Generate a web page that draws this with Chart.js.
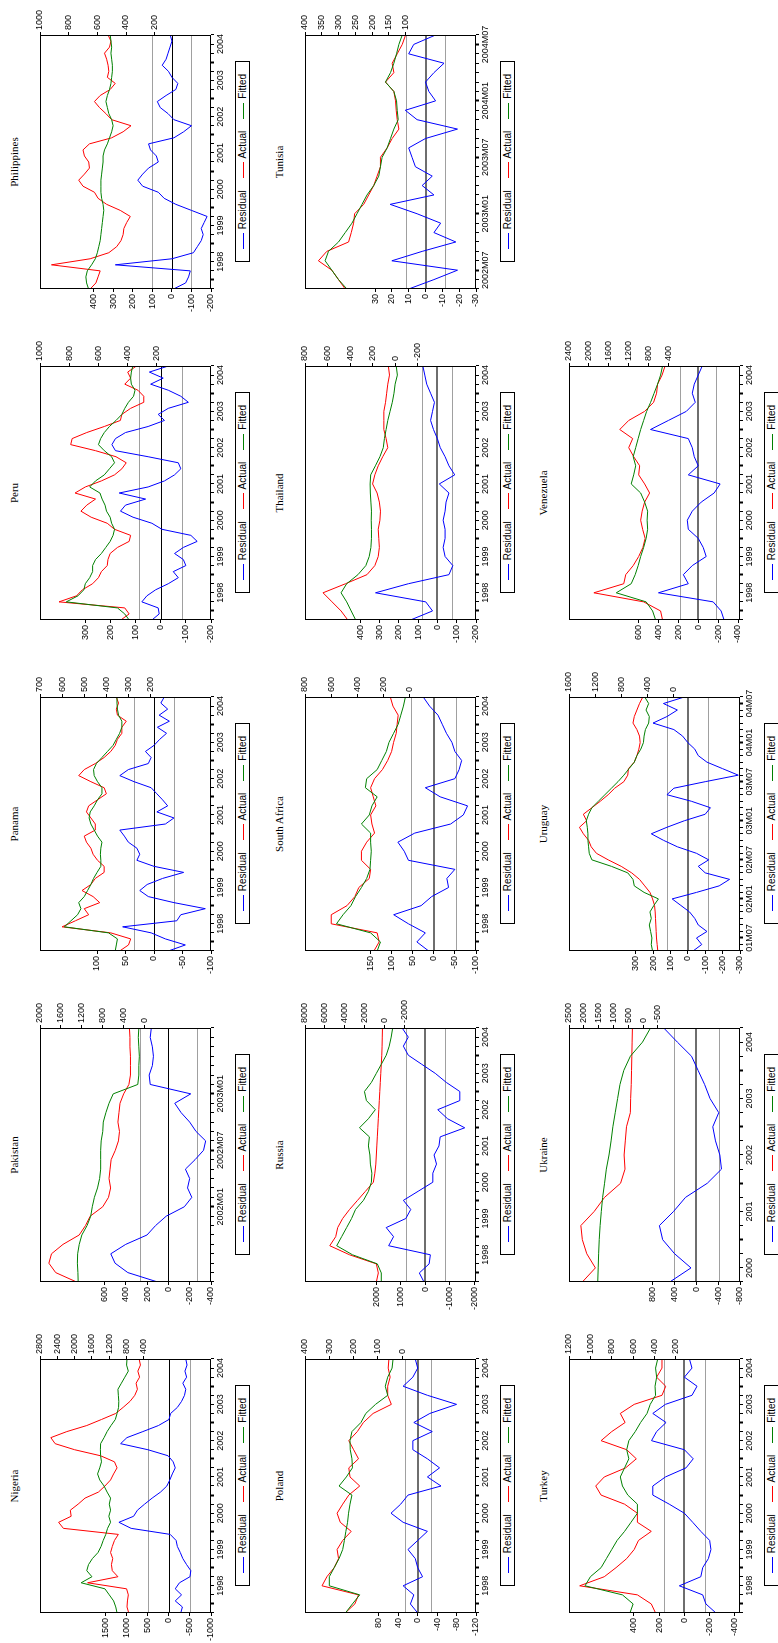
<!DOCTYPE html>
<html>
<head>
<meta charset="utf-8">
<script src="https://cdn.jsdelivr.net/npm/chart.js@4.4.0/dist/chart.umd.min.js"></script>
<style>
  html, body { margin: 0; padding: 0; background: #fff; }
  body { width: 778px; height: 1643px; overflow: hidden; position: relative; }
  #page { position: absolute; left: 0; top: 0; width: 1643px; height: 778px;
          transform-origin: 0 0; transform: translate(0, 1643px) rotate(-90deg); }
  .ttl { position: absolute; font: 11px 'Liberation Serif', 'Times New Roman', serif; text-align: center; }
  .lg { position: absolute; box-sizing: border-box; border: 1px solid #000; display: flex; align-items: center;
        justify-content: space-evenly; font: 10px 'Liberation Sans', Arial, sans-serif; }
  .lg i { display: inline-block; width: 16px; border-top: 1px solid; margin-right: 4px; vertical-align: middle; }
  canvas { position: absolute; }
</style>
</head>
<body>
<div id="page"></div>
<script>
// ---- x axis tick labels ----
const years = ['1998', '1999', '2000', '2001', '2002', '2003', '2004'];
const pakistanLabels = ['2002M01', '2002M07', '2003M01'];
const tunisiaLabels = ['2002M07', '2003M01', '2003M07', '2004M01', '2004M07'];
const ukraineLabels = ['2000', '2001', '2002', '2003', '2004'];
const uruguayLabels = ['01M07', '02M01', '02M07', '03M01', '03M07', '04M01', '04M07'];

// ---- series ----
// every 2 months from 1997M10
const nigeriaActual = [750,790,780,760,800,1700,1000,1130,1150,1120,1170,1130,1080,990,2260,2370,2080,2100,1920,1760,1450,1300,1170,1100,1020,1080,1400,2000,2450,2550,2180,1720,1380,1050,880,720,610,550,580,500,540,480,510];
const nigeriaFitted = [1020,1050,1100,1200,1300,1850,1600,1720,1680,1590,1460,1390,1340,1280,1240,1170,1210,1170,1200,1170,1250,1320,1420,1470,1420,1380,1400,1405,1400,1320,1250,1160,1060,1020,985,980,990,1000,920,840,760,800,790];
const nigeriaResid = [-280,-320,-150,-300,-150,-250,-500,-520,-420,-330,-270,-200,-170,-30,900,1190,840,750,580,400,200,50,-20,-80,-150,-100,20,500,1150,1000,620,250,0,-40,-200,-300,-370,-400,-330,-420,-380,-430,-400];

// monthly from 2001M05
const pakistanActual = [1300,1700,1830,1780,1560,1250,1130,1040,800,690,650,680,660,640,560,500,480,510,490,470,400,300,270,270,270,280,280,290];
const pakistanFitted = [1270,1275,1285,1280,1250,1200,1100,1030,1000,960,900,860,840,840,840,830,800,790,740,680,600,130,110,110,100,110,120,110];
const pakistanResid = [100,380,500,540,400,200,120,20,-150,-220,-180,-200,-160,-250,-330,-350,-260,-200,-120,-60,-210,170,180,150,140,150,170,160];

// every 2 months from 1997M10
const panamaActual = [340,300,290,380,600,540,480,500,430,460,510,470,450,410,410,440,460,470,490,500,450,450,470,490,480,440,400,410,470,525,500,450,410,380,360,350,330,330,310,350,355,345,355];
const panamaFitted = [360,355,350,390,590,560,530,515,525,500,485,470,458,442,425,425,427,425,420,440,455,470,478,473,455,440,420,420,440,455,458,445,420,395,370,355,340,330,330,345,350,352,352];
const panamaResid = [-25,-55,-20,5,55,-40,-47,-90,-35,10,25,12,-15,-52,0,30,25,30,45,52,60,-20,-35,-5,-24,-15,-5,5,35,60,45,10,5,15,0,-10,-22,-6,-27,-9,-24,-12,-18];

const peruActual = [447,390,420,870,750,710,640,600,580,540,535,520,470,390,380,490,540,650,720,680,620,760,690,580,490,440,410,480,620,790,780,680,560,450,440,380,290,290,330,420,380,400,340];
const peruFitted = [390,420,470,820,740,700,690,660,640,640,620,580,550,520,500,490,510,520,545,555,575,590,660,620,560,525,490,510,560,600,585,560,525,480,440,420,395,360,350,375,380,375,365];
const peruResid = [35,6,10,75,55,20,-30,-70,-50,-100,-90,-55,-90,-145,-120,-5,35,110,160,140,60,165,50,-15,-55,-80,-70,50,180,194,180,140,50,-15,10,-30,-110,-80,-30,40,-10,45,-30];

const philippinesActual = [650,610,595,580,920,650,520,465,435,420,415,395,370,440,535,595,620,700,730,690,655,660,690,700,655,500,420,365,500,540,585,620,580,510,475,530,520,525,535,550,515,505,525];
const philippinesFitted = [661,675,680,670,640,614,600,590,580,575,570,565,560,555,560,570,575,575,575,570,565,560,560,550,530,515,500,490,500,520,530,540,530,515,505,500,495,495,500,505,500,505,510];
const philippinesResid = [-8,-70,-85,-94,290,0,-110,-130,-150,-160,-150,-165,-180,-100,-20,40,70,150,175,150,120,70,80,110,120,-10,-60,-100,-10,20,60,75,30,-20,-30,0,18,50,30,20,10,0,9];

// quarterly from 1997M10
const polandActual = [235,195,180,330,310,280,262,268,245,210,255,268,245,220,175,215,220,180,200,220,185,160,120,45,60,60,50,58,55];
const polandFitted = [234,205,175,300,300,280,260,245,238,232,225,221,215,207,260,230,205,207,214,215,207,170,150,110,60,70,60,42,38];
const polandResid = [0,15,8,30,-10,0,5,20,0,-20,30,55,35,20,-48,-20,-45,-20,10,10,-30,8,-25,-80,-20,30,10,0,5];

const russiaActual = [800,600,800,3500,5500,4900,4700,4200,3500,2700,1900,1100,950,850,800,750,700,650,600,550,500,450,400,350,300,250,220,200,180];
const russiaFitted = [300,300,700,3200,4800,4300,3800,3300,2900,2100,1600,1300,1250,1400,1450,1600,1500,2500,1600,900,1800,2000,1300,800,300,-200,-500,-700,-850];
const russiaResid = [60,250,-150,-200,1500,1300,1600,800,600,900,300,-300,-300,-450,-350,-550,-600,-1600,-900,-500,-1400,-1400,-850,-400,150,700,900,700,950];

const southAfricaActual = [275,235,250,600,600,480,420,390,310,300,370,370,330,270,290,300,260,280,300,270,210,170,140,125,105,98,90,130,150];
const southAfricaFitted = [250,225,300,560,510,450,415,370,330,305,300,295,300,300,370,310,290,250,340,330,250,215,180,160,125,90,70,50,35];
const southAfricaResid = [12,40,20,60,95,30,5,-35,-31,-50,60,70,85,45,-40,-70,-80,-15,20,-50,-60,-66,-50,-43,-30,-20,-10,10,25];

const thailandActual = [420,480,560,640,440,250,180,150,140,145,150,135,130,140,160,200,180,150,110,65,80,100,100,100,85,75,65,50,60];
const thailandFitted = [350,390,430,480,430,330,260,230,215,210,210,212,210,215,220,222,217,175,135,105,95,80,65,45,25,10,0,-20,-10];
const thailandResid = [139,25,60,320,150,-60,-80,-40,-30,-40,-40,-30,-40,-45,-60,-10,-90,-60,-40,-15,0,20,35,25,15,35,55,65,75];

// monthly from 2002M05
const tunisiaActual = [280,300,320,360,335,270,262,255,252,225,210,195,185,175,175,155,140,120,125,128,130,135,160,135,140,125,110,100];
const tunisiaFitted = [275,300,320,340,330,300,280,260,245,230,215,195,180,175,170,155,145,135,122,125,127,135,160,145,135,127,120,110];
const tunisiaResid = [10,-5,-19,20,2,-18,-5,-9,5,21,-5,2,-4,6,8,10,0,-19,5,12,-6,-2,0,-5,-11,10,7,-6];

// quarterly from 1997M10
const turkeyActual = [390,430,560,1100,870,760,660,590,550,430,560,560,680,900,950,870,670,570,660,900,800,675,720,590,330,295,380,330,330];
const turkeyFitted = [630,600,700,1050,1000,900,850,800,750,680,620,560,560,650,700,720,680,640,660,640,580,530,470,440,390,395,380,390,370];
const turkeyResid = [-250,-170,-145,40,-130,-145,-190,-210,-200,-130,-66,0,120,250,250,150,-13,-70,0,260,220,145,250,150,-60,-100,0,-60,-40];

// quarterly from 2000M04
const ukraineActual = [2050,1610,1900,2050,2100,1650,1300,760,610,640,600,560,430,420,400,390,380,370,360];
const ukraineFitted = [1530,1515,1500,1480,1450,1410,1365,1300,1240,1150,1080,1020,940,860,780,650,430,20,-250];
const ukraineResid = [490,100,400,620,680,420,200,-200,-460,-430,-350,-300,-410,-250,-150,-30,90,350,600];

// monthly from 2001M05
const uruguayActual = [240,250,260,265,270,275,280,290,320,360,440,520,640,800,1000,1180,1260,1300,1380,1440,1330,1380,1250,1120,1000,900,760,700,690,600,560,530,510,520,560,620,600,560,520,470];
const uruguayFitted = [320,340,330,350,370,340,360,300,230,450,600,620,700,950,1250,1290,1300,1310,1310,1320,1335,1300,1250,1150,1050,950,850,760,680,600,560,500,460,450,430,380,370,420,380,440];
const uruguayResid = [-30,-80,-50,-110,-60,-40,-10,40,90,-50,-180,-240,-100,-60,-120,-50,60,140,210,120,20,-100,-130,-20,120,80,-100,-290,-200,-110,-60,-40,0,30,80,200,120,60,140,20];

// quarterly from 1997M10
const venezuelaActual = [520,560,900,1900,1300,1260,1110,1000,915,870,920,960,930,880,780,880,1000,980,1100,1200,1120,1380,1200,880,700,640,620,530,470];
const venezuelaFitted = [660,720,850,1450,1150,1070,1010,960,900,850,820,830,820,880,960,1150,1100,1060,1110,1060,1010,960,900,840,760,690,620,560,520];
const venezuelaResid = [-260,-230,-150,400,100,150,60,-80,-50,0,100,110,60,-30,-160,-220,100,0,40,60,100,480,300,120,30,60,40,0,-40];

// ---- panels ----
const panels = [
  { name: 'Nigeria', col: 0, row: 0, start: [1997, 10], step: 2, tickStep: 3, xLabels: years,
    actual: nigeriaActual, fitted: nigeriaFitted, resid: nigeriaResid,
    left: [-1000, 3067], leftTicks: [-1000, -500, 0, 500, 1000, 1500], se: 490,
    right: [-1150, 2800], rightTicks: [400, 800, 1200, 1600, 2000, 2400, 2800] },
  { name: 'Pakistan', col: 1, row: 0, start: [2001, 5], step: 1, tickStep: 1, xLabels: pakistanLabels,
    actual: pakistanActual, fitted: pakistanFitted, resid: pakistanResid,
    left: [-400, 1204], leftTicks: [-400, -200, 0, 200, 400, 600], se: 265,
    right: [-1270, 2000], rightTicks: [0, 400, 800, 1200, 1600, 2000] },
  { name: 'Panama', col: 2, row: 0, start: [1997, 10], step: 2, tickStep: 3, xLabels: years,
    actual: panamaActual, fitted: panamaFitted, resid: panamaResid,
    left: [-100, 200], leftTicks: [-100, -50, 0, 50, 100], se: 35,
    right: [-73, 700], rightTicks: [200, 300, 400, 500, 600, 700] },
  { name: 'Peru', col: 3, row: 0, start: [1997, 10], step: 2, tickStep: 3, xLabels: years,
    actual: peruActual, fitted: peruFitted, resid: peruResid,
    left: [-200, 480], leftTicks: [-200, -100, 0, 100, 200, 300], se: 85,
    right: [-170, 1000], rightTicks: [200, 400, 600, 800, 1000] },
  { name: 'Philippines', col: 4, row: 0, start: [1997, 10], step: 2, tickStep: 3, xLabels: years,
    actual: philippinesActual, fitted: philippinesFitted, resid: philippinesResid,
    left: [-200, 676], leftTicks: [-200, -100, 0, 100, 200, 300, 400], se: 100,
    right: [-193, 1000], rightTicks: [200, 400, 600, 800, 1000] },
  { name: 'Poland', col: 0, row: 1, start: [1997, 10], step: 3, tickStep: 3, xLabels: years,
    actual: polandActual, fitted: polandFitted, resid: polandResid,
    left: [-120, 232], leftTicks: [-120, -80, -40, 0, 40, 80], se: 27,
    right: [-303, 400], rightTicks: [0, 100, 200, 300, 400] },
  { name: 'Russia', col: 1, row: 1, start: [1997, 10], step: 3, tickStep: 3, xLabels: years,
    actual: russiaActual, fitted: russiaFitted, resid: russiaResid,
    left: [-2060, 4910], leftTicks: [-2000, -1000, 0, 1000, 2000], se: 810,
    right: [-9260, 8000], rightTicks: [-2000, 0, 2000, 4000, 6000, 8000] },
  { name: 'South Africa', col: 2, row: 1, start: [1997, 10], step: 3, tickStep: 3, xLabels: years,
    actual: southAfricaActual, fitted: southAfricaFitted, resid: southAfricaResid,
    left: [-100, 305], leftTicks: [-100, -50, 0, 50, 100, 150], se: 53,
    right: [-503, 800], rightTicks: [0, 200, 400, 600, 800] },
  { name: 'Thailand', col: 3, row: 1, start: [1997, 10], step: 3, tickStep: 3, xLabels: years,
    actual: thailandActual, fitted: thailandFitted, resid: thailandResid,
    left: [-200, 685], leftTicks: [-200, -100, 0, 100, 200, 300, 400], se: 77,
    right: [-718, 800], rightTicks: [-200, 0, 200, 400, 600, 800] },
  { name: 'Tunisia', col: 4, row: 1, start: [2002, 5], step: 1, tickStep: 1, xLabels: tunisiaLabels,
    actual: tunisiaActual, fitted: tunisiaFitted, resid: tunisiaResid,
    left: [-30, 71.6], leftTicks: [-30, -20, -10, 0, 10, 20, 30], se: 11.5,
    right: [-110, 400], rightTicks: [100, 150, 200, 250, 300, 350, 400] },
  { name: 'Turkey', col: 0, row: 2, start: [1997, 10], step: 3, tickStep: 3, xLabels: years,
    actual: turkeyActual, fitted: turkeyFitted, resid: turkeyResid,
    left: [-440, 913], leftTicks: [-400, -200, 0, 200, 400], se: 165,
    right: [-400, 1200], rightTicks: [200, 400, 600, 800, 1000, 1200] },
  { name: 'Ukraine', col: 1, row: 2, start: [2000, 4], step: 3, tickStep: 3, xLabels: ukraineLabels,
    actual: ukraineActual, fitted: ukraineFitted, resid: ukraineResid,
    left: [-800, 2340], leftTicks: [-800, -400, 0, 400, 800], se: 410,
    right: [-3270, 2500], rightTicks: [-500, 0, 500, 1000, 1500, 2000, 2500] },
  { name: 'Uruguay', col: 2, row: 2, start: [2001, 5], step: 1, tickStep: 1, xLabels: uruguayLabels,
    actual: uruguayActual, fitted: uruguayFitted, resid: uruguayResid,
    left: [-300, 683], leftTicks: [-300, -200, -100, 0, 100, 200, 300], se: 118,
    right: [-1019, 1600], rightTicks: [0, 400, 800, 1200, 1600] },
  { name: 'Venezuela', col: 3, row: 2, start: [1997, 10], step: 3, tickStep: 3, xLabels: years,
    actual: venezuelaActual, fitted: venezuelaFitted, resid: venezuelaResid,
    left: [-420, 1300], leftTicks: [-400, -200, 0, 200, 400, 600], se: 180,
    right: [-1036, 2400], rightTicks: [400, 800, 1200, 1600, 2000, 2400] }
];

// ---- layout (unrotated page, 1643 x 778) ----
const BOX_W = 254, BOX_H = 171;
const colX = c => 30 + 331 * c;
const rowY = [40, 305, 569];

Chart.defaults.font.family = "'Liberation Sans', Arial, sans-serif";
Chart.defaults.font.size = 9;
Chart.defaults.color = '#000';

const page = document.getElementById('page');

function labelMonth(s) {
  let r = /^(\d{4})$/.exec(s);
  if (r) return +r[1] * 12 + 6;
  r = /^(\d{4})M(\d\d)$/.exec(s);
  if (r) return +r[1] * 12 + (+r[2] - 1);
  r = /^(\d\d)M(\d\d)$/.exec(s);
  return (2000 + +r[1]) * 12 + (+r[2] - 1);
}

function config(p) {
  const m0 = p.start[0] * 12 + p.start[1] - 1;
  const t = p.actual.map((_, i) => (m0 + i * p.step) / 12);
  const xmin = t[0], xmax = t[t.length - 1];
  const labelAt = new Map(p.xLabels.map(s => [labelMonth(s), s]));
  const annual = /^\d{4}$/.test(p.xLabels[0]);
  const tickMonths = [];
  for (let m = Math.ceil(xmin * 12 - 1e-6); m <= Math.floor(xmax * 12 + 1e-6); m++) {
    if (m % p.tickStep === 0) tickMonths.push(m);
  }
  const isMajor = v => {
    const m = Math.round(v * 12);
    return annual ? m % 12 === 0 : labelAt.has(m);
  };
  const pts = arr => arr.map((v, i) => ({ x: t[i], y: v }));
  const line = (label, data, color, axis, order) => ({
    label, data: pts(data), borderColor: color, borderWidth: 1, pointRadius: 0,
    tension: 0, fill: false, yAxisID: axis, order
  });
  // first row draws a thin black zero line, the lower rows a heavier grey one
  const zeroColor = p.row === 0 ? '#000' : '#6e6e6e';
  const zeroWidth = p.row === 0 ? 1 : 2;

  // zero and +/- standard error lines, plus the frame
  const frame = {
    id: 'frame',
    beforeDatasetsDraw(chart) {
      const { ctx, chartArea: a } = chart;
      const yL = chart.scales.yL;
      ctx.save();
      ctx.beginPath();
      ctx.rect(a.left, a.top, a.right - a.left, a.bottom - a.top);
      ctx.clip();
      ctx.lineWidth = 1;
      ctx.strokeStyle = '#a0a0a0';
      [p.se, -p.se].forEach(v => {
        const y = Math.round(yL.getPixelForValue(v)) + 0.5;
        ctx.beginPath(); ctx.moveTo(a.left, y); ctx.lineTo(a.right, y); ctx.stroke();
      });
      ctx.strokeStyle = zeroColor;
      ctx.lineWidth = zeroWidth;
      const y0 = Math.round(yL.getPixelForValue(0)) + (zeroWidth === 1 ? 0.5 : 0);
      ctx.beginPath(); ctx.moveTo(a.left, y0); ctx.lineTo(a.right, y0); ctx.stroke();
      ctx.restore();
    },
    afterDraw(chart) {
      const { ctx, chartArea: a } = chart;
      ctx.save();
      ctx.strokeStyle = '#000';
      ctx.lineWidth = 1;
      ctx.strokeRect(Math.round(a.left) + 0.5, Math.round(a.top) + 0.5,
                     Math.round(a.right - a.left) - 1, Math.round(a.bottom - a.top) - 1);
      ctx.restore();
    }
  };

  const yAxis = (pos, range, ticks) => ({
    type: 'linear', position: pos, min: range[0], max: range[1],
    afterBuildTicks: ax => { ax.ticks = ticks.map(v => ({ value: v })); },
    afterFit: ax => { ax.width = 30; },
    ticks: { autoSkip: false, padding: 2, callback: v => String(v) },
    grid: { drawOnChartArea: false, tickLength: 3, tickColor: '#000' },
    border: { display: false }
  });

  return {
    type: 'line',
    data: {
      datasets: [
        line('Residual', p.resid, '#0000ff', 'yL', 3),
        line('Actual', p.actual, '#ff0000', 'yR', 2),
        line('Fitted', p.fitted, '#008000', 'yR', 1)
      ]
    },
    options: {
      responsive: false,
      animation: false,
      events: [],
      layout: { padding: { top: 8, left: 2, right: 2, bottom: 0 } },
      plugins: { legend: { display: false }, tooltip: { enabled: false } },
      scales: {
        x: {
          type: 'linear', min: xmin, max: xmax,
          afterBuildTicks: ax => { ax.ticks = tickMonths.map(m => ({ value: m / 12 })); },
          afterFit: ax => { ax.height = 18; },
          ticks: { autoSkip: false, maxRotation: 0, minRotation: 0, padding: 1,
                   callback: v => labelAt.get(Math.round(v * 12)) || '' },
          grid: { drawOnChartArea: false, tickLength: 3, tickColor: '#000',
                  tickWidth: ctx => (ctx.tick && isMajor(ctx.tick.value)) ? 2 : 1 },
          border: { display: false }
        },
        yL: yAxis('left', p.left, p.leftTicks),
        yR: yAxis('right', p.right, p.rightTicks)
      }
    },
    plugins: [frame]
  };
}

function build(p) {
  const u0 = colX(p.col), v0 = rowY[p.row];
  let w = BOX_W + 70, h = BOX_H + 30;
  let c = document.createElement('canvas');
  c.width = w; c.height = h;
  page.appendChild(c);
  let ch = new Chart(c, config(p));
  let a = ch.chartArea;
  const w2 = w + Math.round(BOX_W - (a.right - a.left));
  const h2 = h + Math.round(BOX_H - (a.bottom - a.top));
  if (w2 !== w || h2 !== h) {
    ch.destroy();
    c.remove();
    c = document.createElement('canvas');
    c.width = w2; c.height = h2;
    page.appendChild(c);
    ch = new Chart(c, config(p));
    a = ch.chartArea;
  }
  c.style.left = (u0 - a.left) + 'px';
  c.style.top = (v0 - a.top) + 'px';

  const title = document.createElement('div');
  title.className = 'ttl';
  title.textContent = p.name;
  title.style.left = u0 + 'px';
  title.style.width = BOX_W + 'px';
  title.style.top = (v0 - 32) + 'px';
  page.appendChild(title);

  const lg = document.createElement('div');
  lg.className = 'lg';
  lg.style.left = (u0 + BOX_W / 2 - 100) + 'px';
  lg.style.top = (v0 + BOX_H + 24) + 'px';
  lg.style.width = '201px';
  lg.style.height = '15px';
  [['Residual', '#0000ff'], ['Actual', '#ff0000'], ['Fitted', '#008000']].forEach(([txt, col]) => {
    const s = document.createElement('span');
    s.innerHTML = '<i style="border-color:' + col + '"></i>' + txt;
    lg.appendChild(s);
  });
  page.appendChild(lg);
}

panels.forEach(build);
</script>
</body>
</html>
